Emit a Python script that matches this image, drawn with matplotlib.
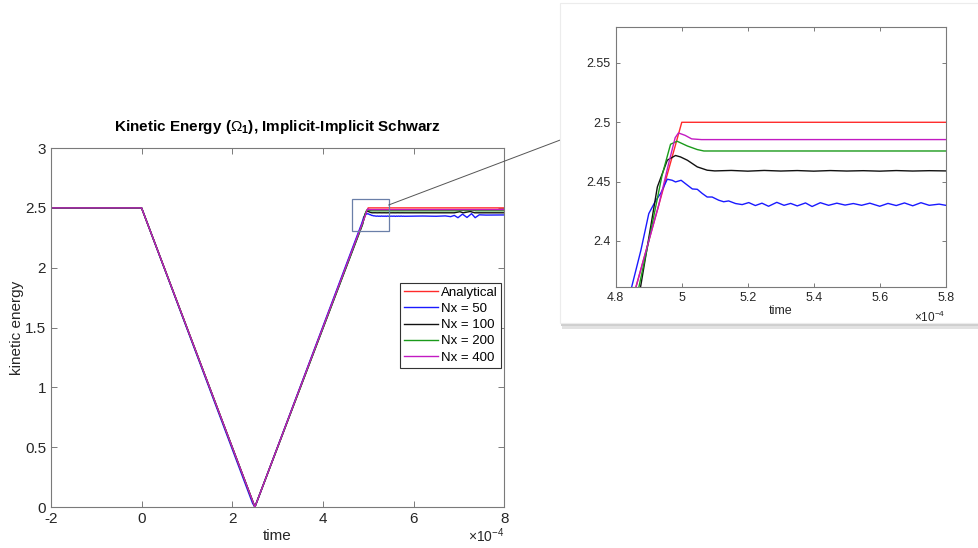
import numpy as np
import matplotlib.pyplot as plt
from matplotlib.patches import Rectangle, ConnectionPatch
from matplotlib.ticker import FuncFormatter

plt.rcParams['font.family'] = ['Liberation Sans', 'DejaVu Sans']
plt.rcParams['mathtext.fontset'] = 'custom'
plt.rcParams['mathtext.rm'] = 'Liberation Sans'
plt.rcParams['mathtext.it'] = 'Liberation Sans:italic'
plt.rcParams['mathtext.bf'] = 'Liberation Sans:bold'

# --- donnees (temps en unites de 1e-4 s) ---
SCALE = 1e-4

t_ana = [-2, 0, 2.5, 5.0, 8.0]
ke_ana = [2.5, 2.5, 0.0, 2.5, 2.5]

t_nx50 = [-2, 0, 2.45, 2.5, 4.848, 4.876, 4.90, 4.921, 4.936, 4.956, 4.971, 4.981, 4.998,
          5.017, 5.032, 5.047, 5.062, 5.077, 5.092, 5.112, 5.127, 5.142, 5.163, 5.183,
          5.203, 5.223, 5.243, 5.263, 5.288, 5.31, 5.33, 5.35, 5.375, 5.395, 5.42, 5.445,
          5.47, 5.495, 5.52, 5.545, 5.57, 5.60, 5.625, 5.65, 5.675, 5.70, 5.725, 5.75,
          5.78, 5.80, 6.2, 6.5, 6.7, 6.82, 6.9, 6.98, 7.08, 7.18, 7.28, 7.36, 7.45, 7.6, 8.0]
ke_nx50 = [2.5, 2.5, 0.03, 0.0, 2.361, 2.392, 2.423, 2.434, 2.440, 2.452, 2.4511, 2.4497, 2.4511,
           2.447, 2.4438, 2.4435, 2.440, 2.437, 2.437, 2.4343, 2.433, 2.4337, 2.4315, 2.4306,
           2.4323, 2.4298, 2.4318, 2.4292, 2.4325, 2.4300, 2.4316, 2.4295, 2.4320, 2.4290, 2.4322, 2.4300,
           2.4318, 2.4302, 2.4315, 2.4300, 2.4318, 2.4292, 2.4316, 2.4298, 2.4320, 2.4296, 2.4322, 2.4300,
           2.4310, 2.4300, 2.432, 2.430, 2.433, 2.427, 2.437, 2.418, 2.448, 2.420, 2.452, 2.418, 2.442, 2.440, 2.441]

t_nx100 = [-2, 0, 2.5, 4.875, 4.926, 4.956, 4.981, 4.996, 5.017, 5.047, 5.077, 5.10, 5.15,
           5.20, 5.25, 5.30, 5.35, 5.40, 5.45, 5.50, 5.55, 5.60, 5.65, 5.70, 5.75, 5.80,
           6.9, 7.02, 7.10, 7.25, 7.35, 8.0]
ke_nx100 = [2.5, 2.5, 0.0, 2.361, 2.4455, 2.468, 2.472, 2.4708, 2.468, 2.4624, 2.4596, 2.4590, 2.4594,
            2.4588, 2.4594, 2.4589, 2.4593, 2.4588, 2.4593, 2.4589, 2.4592, 2.4588, 2.4593, 2.4589, 2.4592, 2.4590,
            2.459, 2.468, 2.459, 2.470, 2.459, 2.459]

t_nx200 = [-2, 0, 2.5, 4.87, 4.90, 4.94, 4.966, 4.986, 5.017, 5.047, 5.067, 5.80,
           7.0, 7.08, 7.15, 7.30, 7.38, 8.0]
ke_nx200 = [2.5, 2.5, 0.0, 2.361, 2.40, 2.455, 2.4815, 2.484, 2.480, 2.477, 2.4758, 2.4758,
            2.476, 2.480, 2.476, 2.481, 2.476, 2.476]

t_nx400 = [-2, 0, 2.5, 4.86, 4.93, 4.96, 4.98, 4.99, 5.01, 5.03, 5.06, 8.0]
ke_nx400 = [2.5, 2.5, 0.0, 2.36, 2.43, 2.465, 2.487, 2.491, 2.489, 2.486, 2.4854, 2.4855]

series = [
    ('Analytical', t_ana, ke_ana, '#ff2a2a'),
    ('Nx = 50', t_nx50, ke_nx50, '#1a1aff'),
    ('Nx = 100', t_nx100, ke_nx100, '#111111'),
    ('Nx = 200', t_nx200, ke_nx200, '#1a9a1a'),
    ('Nx = 400', t_nx400, ke_nx400, '#c21ac2'),
]

AXC = '#7a7a7a'
TXT = '#262626'


def style_axes(a, size):
    for s in a.spines.values():
        s.set_color(AXC)
        s.set_linewidth(0.8)
    a.tick_params(direction='in', top=True, right=True, colors=AXC,
                  labelcolor=TXT, labelsize=size, length=4, width=0.7)
    a.xaxis.set_major_formatter(FuncFormatter(lambda v, p: f"{v / SCALE:g}"))
    a.yaxis.set_major_formatter(FuncFormatter(lambda v, p: f"{v:g}"))


fig = plt.figure(figsize=(9.79, 5.48), dpi=100)

# --- graphique principal ---
ax = fig.add_axes([0.052, 0.0748, 0.463, 0.655])
for name, t, ke, c in series:
    ax.plot(np.array(t) * SCALE, ke, color=c, lw=1.0, label=name)
ax.set_xlim(-2 * SCALE, 8 * SCALE)
ax.set_ylim(0, 3)
ax.set_xticks(np.arange(-2, 9, 2) * SCALE)
ax.set_yticks(np.arange(0, 3.01, 0.5))
style_axes(ax, 11)
ax.set_title(r"Kinetic Energy ($\Omega_{\mathbf{1}}$), Implicit-Implicit Schwarz",
             fontsize=11, fontweight='bold', color='black', pad=12)
ax.set_xlabel("time", fontsize=11, color=TXT, labelpad=2)
ax.set_ylabel("kinetic energy", fontsize=11, color=TXT, labelpad=1)
ax.text(1.0, -0.081, r"$\times$10$^{-4}$", transform=ax.transAxes, ha='right', va='center',
        fontsize=10, color=TXT)
leg = ax.legend(loc='upper right', bbox_to_anchor=(0.994, 0.625), fontsize=9.5, fancybox=False,
                edgecolor='#333333', framealpha=1, borderpad=0.3, handlelength=2.6,
                handletextpad=0.2, labelspacing=0.3, borderaxespad=0)
leg.get_frame().set_linewidth(0.8)

# rectangle de zoom
ax.add_patch(Rectangle((4.65 * SCALE, 2.31), 0.8 * SCALE, 0.265, fill=False,
                       edgecolor='#6a7fa8', lw=0.9, zorder=5))

# --- panneau agrandi (avec ombre) ---
fig.add_artist(Rectangle((0.574, 0.400), 0.43, 0.59, transform=fig.transFigure,
                         facecolor='#e2e2e2', edgecolor='none', zorder=1))
fig.add_artist(Rectangle((0.573, 0.405), 0.43, 0.59, transform=fig.transFigure,
                         facecolor='#cfcfcf', edgecolor='none', zorder=1.2))
fig.add_artist(Rectangle((0.572, 0.4106), 0.43, 0.584, transform=fig.transFigure,
                         facecolor='white', edgecolor='#ececec', lw=0.8, zorder=2))
con = ConnectionPatch(xyA=(5.45 * SCALE, 2.524), coordsA=ax.transData,
                      xyB=(0.573, 0.745), coordsB=fig.transFigure, color='#555555', lw=0.7)
con.set_zorder(1.5)
fig.add_artist(con)

axi = fig.add_axes([0.629, 0.476, 0.337, 0.474])
axi.set_zorder(3)
for name, t, ke, c in series:
    axi.plot(np.array(t) * SCALE, ke, color=c, lw=1.0)
axi.set_xlim(4.8 * SCALE, 5.8 * SCALE)
axi.set_ylim(2.361, 2.58)
axi.set_xticks(np.arange(4.8, 5.81, 0.2) * SCALE)
axi.set_yticks([2.4, 2.45, 2.5, 2.55])
style_axes(axi, 9)
axi.tick_params(length=3)
axi.set_xlabel("time", fontsize=9, color=TXT, labelpad=1)
axi.text(1.0, -0.115, r"$\times$10$^{-4}$", transform=axi.transAxes, ha='right', va='center',
         fontsize=8.5, color=TXT)

fig.savefig("out.png", dpi=100)
